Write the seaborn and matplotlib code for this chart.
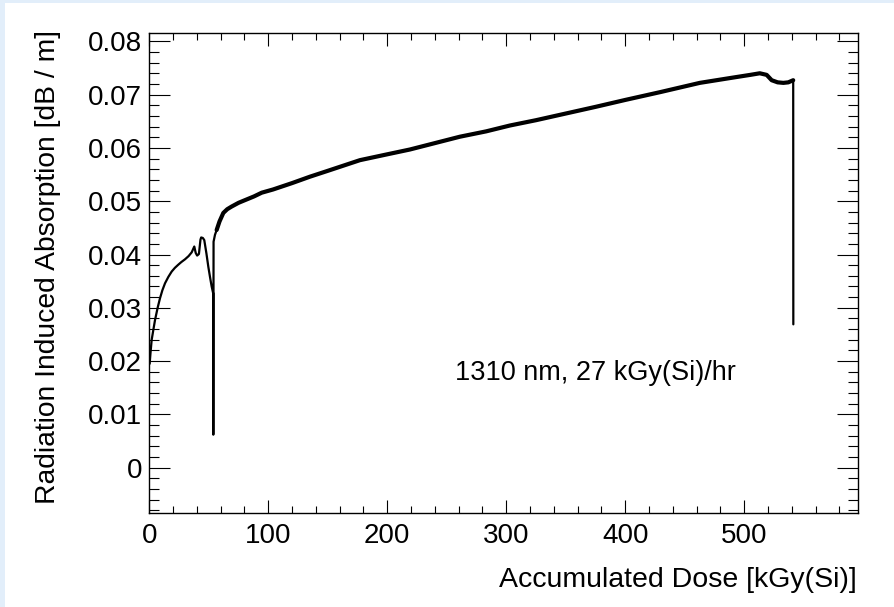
import numpy as np
import pandas as pd
import matplotlib
matplotlib.use("Agg")
import matplotlib.pyplot as plt
from matplotlib.ticker import MultipleLocator, FixedLocator, FixedFormatter
from matplotlib.patches import Rectangle
import seaborn as sns

# ---- data ----
dose = [0.3, 1.0, 2.0, 3.5, 4.8, 7.0, 9.0, 11.0, 13.2, 16.0, 18.8, 21.5, 24.4, 27.0,
        30.0, 33.0, 35.6, 37.8, 39.0, 40.2, 41.7, 43.0, 43.6, 45.0, 46.2, 48.0, 49.6,
        51.0, 52.4, 53.7, 53.8, 54.0, 55.2, 56.6, 59.0, 62.2, 65.5, 69.2, 75.0, 80.4,
        88.0, 94.5, 104.0, 120.0, 135.0, 150.0, 177.0, 200.0, 219.0, 240.0, 261.0,
        283.0, 303.0, 325.0, 345.0, 375.0, 400.0, 430.0, 462.6, 490.7, 505.0, 513.0,
        518.8, 523.0, 528.0, 532.8, 537.0, 541.1, 541.2]
absorption = [0.0195, 0.0215, 0.0240, 0.0260, 0.0277, 0.0300, 0.0318, 0.0333, 0.0346,
              0.0358, 0.0368, 0.0375, 0.0381, 0.0386, 0.0391, 0.0397, 0.0404, 0.0415,
              0.0403, 0.0398, 0.0401, 0.0428, 0.0432, 0.0431, 0.0427, 0.0402, 0.0377,
              0.0358, 0.0340, 0.0327, 0.0062, 0.0424, 0.0437, 0.0446, 0.0462, 0.0478,
              0.0485, 0.0490, 0.0497, 0.0502, 0.0509, 0.0516, 0.0522, 0.0534, 0.0546,
              0.0557, 0.0577, 0.0588, 0.0597, 0.0609, 0.0621, 0.0631, 0.0642, 0.0652,
              0.0662, 0.0677, 0.0690, 0.0705, 0.0722, 0.0732, 0.0737, 0.0740, 0.0737,
              0.0727, 0.0723, 0.0722, 0.0723, 0.0727, 0.0269]

y_ticks = [0.0, 0.01, 0.02, 0.03, 0.04, 0.05, 0.06, 0.07, 0.08]
y_tick_labels = ["0", "0.01", "0.02", "0.03", "0.04", "0.05", "0.06", "0.07", "0.08"]
x_ticks = [0, 100, 200, 300, 400, 500]
x_tick_labels = ["0", "100", "200", "300", "400", "500"]

x_title = "Accumulated Dose [kGy(Si)]"
y_title = "Radiation Induced Absorption [dB / m]"
note = "1310 nm, 27 kGy(Si)/hr"

df = pd.DataFrame({"dose": dose, "absorption": absorption})
noisy = df[(df["dose"] >= 56) & (df["dose"] <= 541.15)]

# ---- style ----
sns.set_style("ticks")
plt.rcParams["font.family"] = ["Liberation Sans", "DejaVu Sans"]
plt.rcParams["text.color"] = "black"

W, H = 894, 607
fig = plt.figure(figsize=(W / 100, H / 100), dpi=100)
fig.patch.set_facecolor("#e2eefa")
fig.patches.append(Rectangle((5 / W, 0), 1 - 5 / W, 1 - 3 / H, transform=fig.transFigure,
                             facecolor="white", edgecolor="none", zorder=-10))

ax = fig.add_axes([149.3 / W, 1 - 513.3 / H, (858.3 - 149.3) / W, (513.3 - 33.3) / H])
ax.set_zorder(5)
ax.set_facecolor("white")

sns.lineplot(data=df, x="dose", y="absorption", ax=ax, color="black", lw=1.6,
             estimator=None, sort=False)
sns.lineplot(data=noisy, x="dose", y="absorption", ax=ax, color="black", lw=3.0,
             estimator=None, sort=False)

ax.set_xlim(0, 595.8)
ax.set_ylim(-0.00855, 0.0815)

ax.xaxis.set_major_locator(FixedLocator(x_ticks))
ax.xaxis.set_major_formatter(FixedFormatter(x_tick_labels))
ax.xaxis.set_minor_locator(MultipleLocator(20))
ax.yaxis.set_major_locator(FixedLocator(y_ticks))
ax.yaxis.set_major_formatter(FixedFormatter(y_tick_labels))
ax.yaxis.set_minor_locator(MultipleLocator(0.002))

ax.tick_params(which="both", direction="in", top=True, right=True, width=0.8,
               color="black", labelsize=20, labelcolor="black")
ax.tick_params(axis="x", which="major", length=9.5, pad=7)
ax.tick_params(axis="x", which="minor", length=5)
ax.tick_params(axis="y", which="major", length=15, pad=5)
ax.tick_params(axis="y", which="minor", length=7.5)
for s in ax.spines.values():
    s.set_linewidth(1.0)
    s.set_color("black")

ax.set_xlabel("")
ax.set_ylabel("")
fig.text(857 / W, 1 - 580 / H, x_title, ha="right", va="center", fontsize=20.5,
         color="black", zorder=10)
fig.text(48 / W, 1 - 30 / H, y_title, rotation=90, ha="center", va="top", fontsize=20.3,
         color="black", zorder=10)

ax.text(257, 0.0178, note, ha="left", va="center", fontsize=19.5, color="black")

fig.savefig("out.png", dpi=100, facecolor=fig.get_facecolor())
